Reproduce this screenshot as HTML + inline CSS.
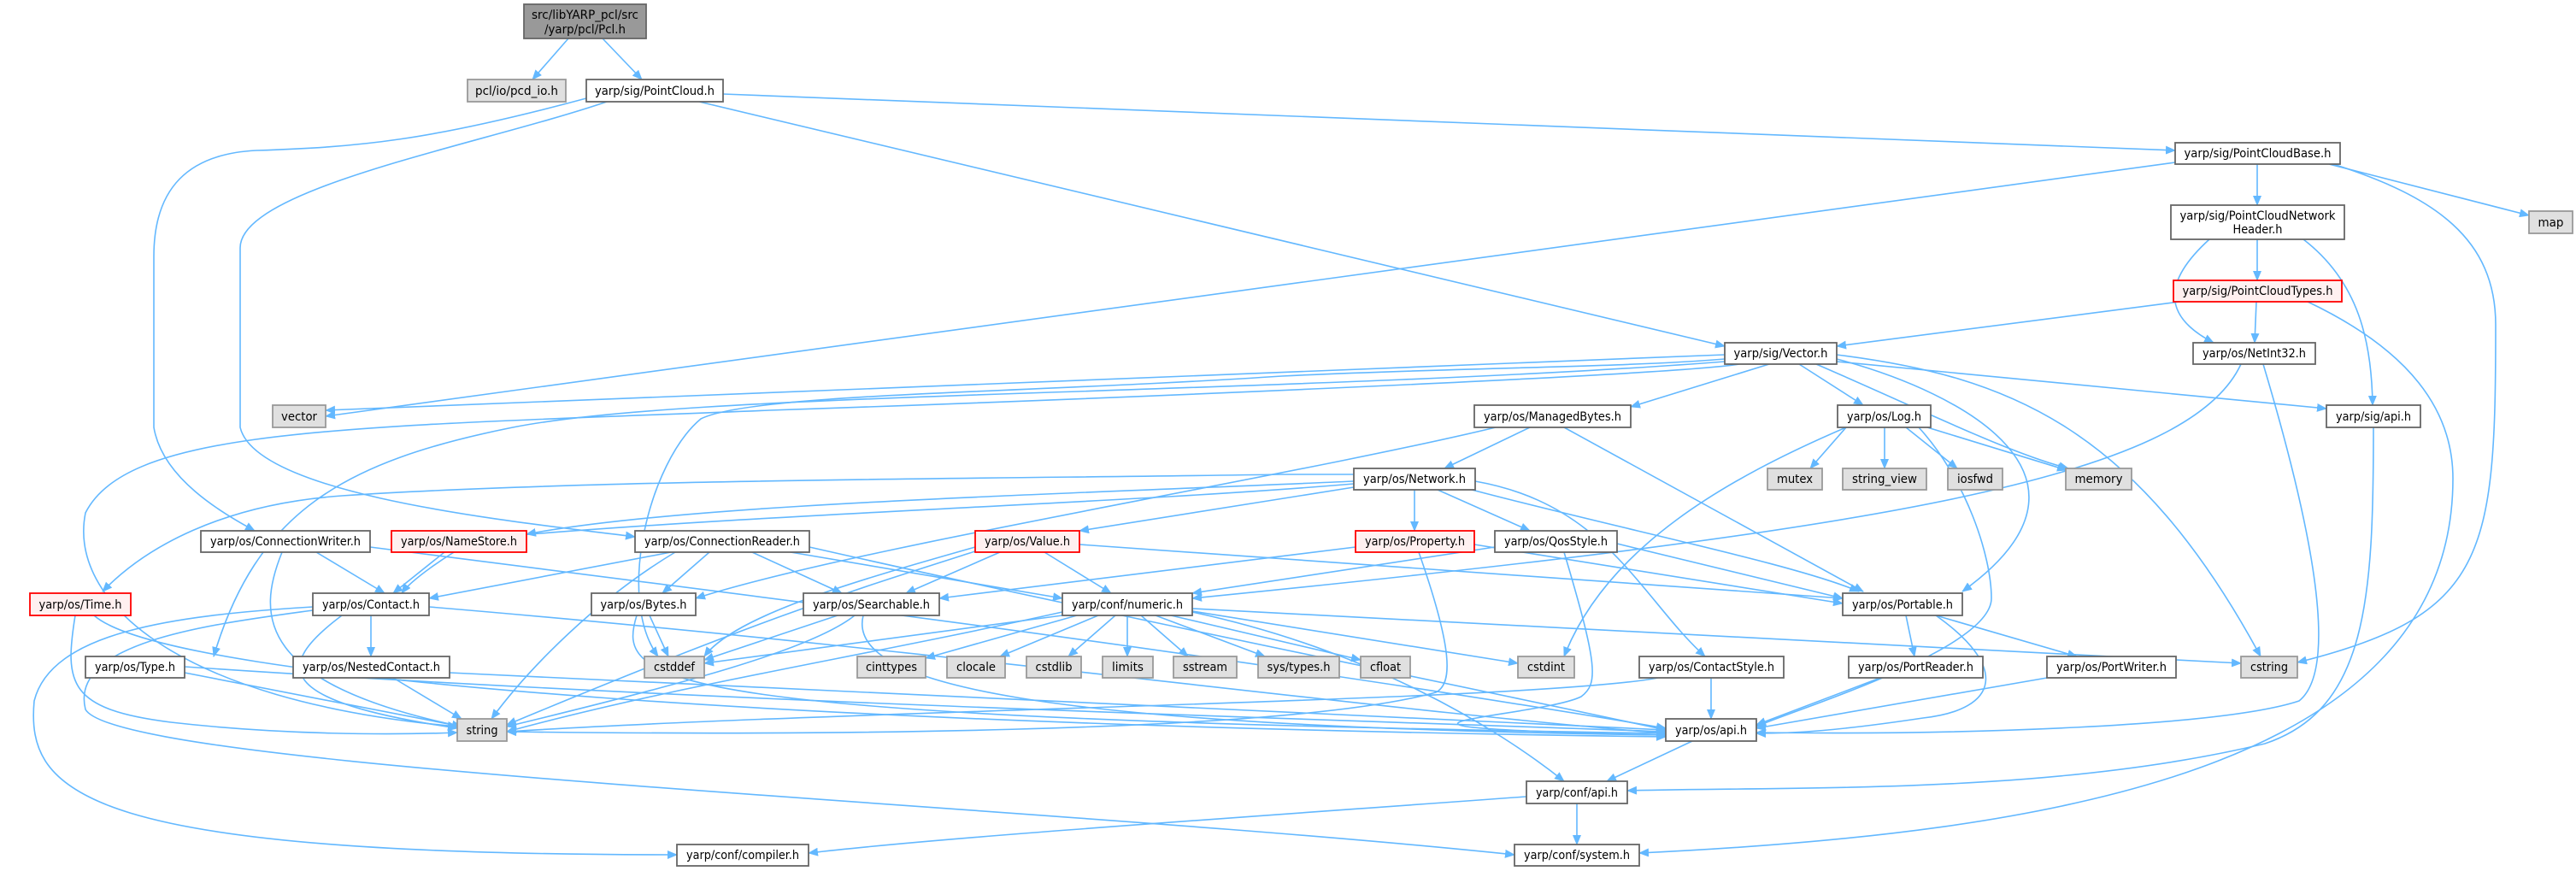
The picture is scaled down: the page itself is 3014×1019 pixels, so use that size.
<!DOCTYPE html>
<html><head><meta charset="utf-8"><style>
html,body{margin:0;padding:0;background:#fff;}
svg{display:block}
text{font-family:"DejaVu Sans Condensed","DejaVu Sans","Liberation Sans",sans-serif;font-size:14px;fill:#000}
.e{fill:none;stroke:#63b8ff;stroke-width:1.6}
.n{fill:#fff;stroke:#666;stroke-width:1.8}
.g{fill:#e0e0e0;stroke:#999;stroke-width:1.8}
.r{fill:#fff0f0;stroke:#f00;stroke-width:1.8}
.d{fill:#999;stroke:#666;stroke-width:1.8}
</style></head><body>
<svg width="3014" height="1019" viewBox="0 0 3014 1019" xmlns="http://www.w3.org/2000/svg">
<defs><marker id="a" markerWidth="12" markerHeight="10" refX="11" refY="5" orient="auto" markerUnits="userSpaceOnUse"><path d="M0,0 L12,5 L0,10 z" fill="#63b8ff"/></marker></defs>
<g class="e" marker-end="url(#a)">
<!-- Pcl -->
<path d="M665,45 L623,93"/>
<path d="M705,45 L751,93"/>
<!-- PointCloud -->
<path d="M846,110 L2545,176"/>
<path d="M818,119 L2018,405"/>
<path d="M686,115 C500,165 420,172 300,176 C220,180 180,220 180,300 L180,500 C190,560 260,600 298,621"/>
<path d="M710,119 C560,170 281,220 281,290 L281,500 C300,580 600,610 743,628"/>
<!-- PointCloudBase -->
<path d="M2545,190 L381,487"/>
<path d="M2641,192 L2641,240"/>
<path d="M2725,192 L2959,252"/>
<path d="M2730,192 C2850,230 2920,280 2920,380 C2920,650 2910,720 2688,775"/>
<!-- PCNH -->
<path d="M2585,280 C2530,330 2530,370 2590,401"/>
<path d="M2641,280 L2641,328"/>
<path d="M2695,280 C2760,330 2775,400 2776,474"/>
<!-- PCT -->
<path d="M2550,353 L2149,405"/>
<path d="M2640,353 L2638,401"/>
<path d="M2700,353 C2820,410 2870,480 2870,560 C2870,900 2400,975 1918,998"/>
<!-- Vector -->
<path d="M2018,415 L381,480"/>
<path d="M2070,426 L1908,476"/>
<path d="M2105,426 L2180,474"/>
<path d="M2149,423 L2722,478"/>
<path d="M2125,426 C2250,480 2350,530 2420,548"/>
<path d="M2149,420 C2300,460 2480,560 2296,692"/>
<path d="M2149,415 C2350,440 2500,500 2645,768"/>
<path d="M2018,420 C1900,430 1700,430 1500,440 C1200,460 880,460 820,490 C760,540 720,700 770,768"/>
<path d="M2018,423 C1800,440 1500,450 1200,460 C900,470 700,480 600,500 C400,540 300,600 250,768"/>
<path d="M2035,426 C1950,440 1200,470 900,480 C400,500 150,500 100,600 C80,700 200,820 535,850"/>
<!-- Log -->
<path d="M2160,500 L2118,548"/>
<path d="M2205,500 L2205,548"/>
<path d="M2230,500 L2290,548"/>
<path d="M2255,500 L2418,550"/>
<path d="M2160,500 C2020,560 1880,640 1830,768"/>
<path d="M2245,500 C2300,560 2330,650 2330,700 C2330,760 2100,830 2055,850"/>
<!-- ManagedBytes -->
<path d="M1790,500 L1690,548"/>
<path d="M1830,500 L2180,692"/>
<path d="M1750,500 C1500,560 1000,640 814,700"/>
<!-- NetInt32 -->
<path d="M2622,426 C2560,560 2200,620 1395,700"/>
<path d="M2648,426 C2700,600 2740,780 2690,820 C2600,850 2300,860 2055,857"/>
<!-- sigapi -->
<path d="M2777,500 C2777,700 2770,830 2650,870 C2400,930 2100,920 1904,925"/>
<!-- Network -->
<path d="M1584,555 L1500,555 C1200,560 700,560 400,580 C260,590 170,640 120,692"/>
<path d="M1584,563 C1200,580 800,590 616,625"/>
<path d="M1584,566 C1300,590 900,600 560,630 C520,650 480,680 470,694"/>
<path d="M1584,570 L1263,621"/>
<path d="M1655,573 L1655,621"/>
<path d="M1682,573 L1790,621"/>
<path d="M1726,563 C1880,590 1920,700 1995,768"/>
<path d="M1722,573 C1900,620 2100,660 2175,692"/>
<!-- ConnectionWriter -->
<path d="M370,646 L450,694"/>
<path d="M330,646 C300,720 300,800 540,850"/>
<path d="M433,640 C900,700 1400,760 1949,852"/>
<!-- NameStore -->
<path d="M520,646 L460,694"/>
<!-- ConnectionReader -->
<path d="M785,646 L502,700"/>
<path d="M830,646 L775,694"/>
<path d="M880,646 L985,694"/>
<path d="M925,646 L1243,700"/>
<path d="M790,646 C700,700 620,780 575,841"/>
<path d="M947,640 C1300,720 1700,800 1949,854"/>
<!-- Value -->
<path d="M1170,646 L1060,694"/>
<path d="M1222,646 L1300,694"/>
<path d="M1263,637 L2156,700"/>
<path d="M1141,640 C1000,680 860,720 824,768"/>
<path d="M1141,645 C1000,690 900,720 593,848"/>
<!-- Property -->
<path d="M1586,640 L1099,700"/>
<path d="M1725,637 L2156,706"/>
<path d="M1660,646 C1700,760 1700,800 1680,810 C1500,860 900,860 593,856"/>
<!-- QosStyle -->
<path d="M1749,640 L1395,694"/>
<path d="M1892,636 L2156,700"/>
<path d="M1830,646 C1870,780 1870,800 1850,815 C1800,840 1500,850 1949,860"/>
<!-- Time -->
<path d="M88,720 C75,800 80,830 200,845 C330,860 460,860 535,857"/>
<path d="M110,720 C200,800 1000,850 1949,862"/>
<!-- Contact -->
<path d="M434,720 L434,768"/>
<path d="M400,720 C320,780 320,820 535,852"/>
<path d="M502,710 C1100,760 1600,830 1949,858"/>
<path d="M366,710 C200,720 60,740 40,820 C30,930 100,1000 792,1000"/>
<path d="M366,714 C250,730 80,750 100,830 C140,900 1200,940 1772,1000"/>
<!-- Bytes -->
<path d="M760,720 L782,768"/>
<path d="M745,720 C720,800 760,840 1949,858"/>
<!-- Searchable -->
<path d="M980,720 L824,772"/>
<path d="M1000,720 C950,760 800,800 593,850"/>
<path d="M1010,720 C990,800 1200,850 1949,860"/>
<!-- numeric -->
<path d="M1243,720 L824,776"/>
<path d="M1260,720 L1083,770"/>
<path d="M1285,720 L1170,768"/>
<path d="M1305,720 L1250,768"/>
<path d="M1319,720 L1319,768"/>
<path d="M1335,720 L1390,768"/>
<path d="M1352,720 L1480,768"/>
<path d="M1370,720 L1592,772"/>
<path d="M1395,715 L1776,776"/>
<path d="M1395,712 L2622,776"/>
<path d="M1395,716 C1600,760 1750,850 1830,914"/>
<path d="M1243,716 C1000,770 800,800 593,856"/>
<!-- Portable -->
<path d="M2230,720 L2240,768"/>
<path d="M2265,720 L2430,768"/>
<path d="M2265,720 C2350,780 2340,830 2250,840 C2150,855 2100,858 2055,858"/>
<!-- Type / Nested / ContactStyle -->
<path d="M216,787 L540,850"/>
<path d="M216,780 C800,820 1500,840 1949,856"/>
<path d="M460,793 L540,841"/>
<path d="M526,787 C1200,820 1600,840 1949,854"/>
<path d="M1940,793 C1800,820 1000,830 593,856"/>
<path d="M2002,793 L2002,841"/>
<path d="M2200,793 L2055,848"/>
<path d="M2395,793 L2055,852"/>
<!-- api -->
<path d="M1980,867 L1880,914"/>
<path d="M1786,932 C1400,960 1100,980 946,998"/>
<path d="M1845,940 L1845,988"/>
</g>
<!-- nodes -->
<rect class="d" x="613" y="5" width="143" height="40"/><text x="684.5" y="22" text-anchor="middle" textLength="125" lengthAdjust="spacingAndGlyphs">src/libYARP_pcl/src</text><text x="684.5" y="39" text-anchor="middle" textLength="95" lengthAdjust="spacingAndGlyphs">/yarp/pcl/Pcl.h</text>
<rect class="g" x="547" y="93" width="115" height="26"/><text x="604.5" y="111" text-anchor="middle" textLength="97" lengthAdjust="spacingAndGlyphs">pcl/io/pcd_io.h</text>
<rect class="n" x="686" y="93" width="160" height="26"/><text x="766" y="111" text-anchor="middle" textLength="140" lengthAdjust="spacingAndGlyphs">yarp/sig/PointCloud.h</text>
<rect class="n" x="2545" y="167" width="193" height="25"/><text x="2641.5" y="184" text-anchor="middle" textLength="172" lengthAdjust="spacingAndGlyphs">yarp/sig/PointCloudBase.h</text>
<rect class="n" x="2540" y="240" width="203" height="40"/><text x="2641.5" y="257" text-anchor="middle" textLength="182" lengthAdjust="spacingAndGlyphs">yarp/sig/PointCloudNetwork</text><text x="2641.5" y="273" text-anchor="middle" textLength="58" lengthAdjust="spacingAndGlyphs">Header.h</text>
<rect class="g" x="2959" y="247" width="51" height="26"/><text x="2984.5" y="265" text-anchor="middle" textLength="30" lengthAdjust="spacingAndGlyphs">map</text>
<rect class="r" x="2543" y="328" width="197" height="25"/><text x="2641.5" y="345" text-anchor="middle" textLength="176" lengthAdjust="spacingAndGlyphs">yarp/sig/PointCloudTypes.h</text>
<rect class="n" x="2018" y="401" width="131" height="25"/><text x="2083.5" y="418" text-anchor="middle" textLength="110" lengthAdjust="spacingAndGlyphs">yarp/sig/Vector.h</text>
<rect class="n" x="2566" y="401" width="143" height="25"/><text x="2637.5" y="418" text-anchor="middle" textLength="121" lengthAdjust="spacingAndGlyphs">yarp/os/NetInt32.h</text>
<rect class="g" x="319" y="474" width="62" height="26"/><text x="350" y="492" text-anchor="middle" textLength="42" lengthAdjust="spacingAndGlyphs">vector</text>
<rect class="n" x="1725" y="474" width="183" height="26"/><text x="1816.5" y="492" text-anchor="middle" textLength="161" lengthAdjust="spacingAndGlyphs">yarp/os/ManagedBytes.h</text>
<rect class="n" x="2150" y="474" width="109" height="26"/><text x="2204.5" y="492" text-anchor="middle" textLength="87" lengthAdjust="spacingAndGlyphs">yarp/os/Log.h</text>
<rect class="n" x="2722" y="474" width="110" height="26"/><text x="2777" y="492" text-anchor="middle" textLength="88" lengthAdjust="spacingAndGlyphs">yarp/sig/api.h</text>
<rect class="n" x="1584" y="548" width="142" height="25"/><text x="1655" y="565" text-anchor="middle" textLength="120" lengthAdjust="spacingAndGlyphs">yarp/os/Network.h</text>
<rect class="g" x="2068" y="548" width="64" height="25"/><text x="2100" y="565" text-anchor="middle" textLength="42" lengthAdjust="spacingAndGlyphs">mutex</text>
<rect class="g" x="2156" y="548" width="98" height="25"/><text x="2205" y="565" text-anchor="middle" textLength="76" lengthAdjust="spacingAndGlyphs">string_view</text>
<rect class="g" x="2279" y="548" width="64" height="25"/><text x="2311" y="565" text-anchor="middle" textLength="42" lengthAdjust="spacingAndGlyphs">iosfwd</text>
<rect class="g" x="2417" y="548" width="77" height="25"/><text x="2455.5" y="565" text-anchor="middle" textLength="56" lengthAdjust="spacingAndGlyphs">memory</text>
<rect class="n" x="235" y="621" width="198" height="25"/><text x="334" y="638" text-anchor="middle" textLength="176" lengthAdjust="spacingAndGlyphs">yarp/os/ConnectionWriter.h</text>
<rect class="r" x="458" y="621" width="158" height="25"/><text x="537" y="638" text-anchor="middle" textLength="136" lengthAdjust="spacingAndGlyphs">yarp/os/NameStore.h</text>
<rect class="n" x="743" y="621" width="204" height="25"/><text x="845" y="638" text-anchor="middle" textLength="182" lengthAdjust="spacingAndGlyphs">yarp/os/ConnectionReader.h</text>
<rect class="r" x="1141" y="621" width="122" height="25"/><text x="1202" y="638" text-anchor="middle" textLength="100" lengthAdjust="spacingAndGlyphs">yarp/os/Value.h</text>
<rect class="r" x="1586" y="621" width="139" height="25"/><text x="1655.5" y="638" text-anchor="middle" textLength="117" lengthAdjust="spacingAndGlyphs">yarp/os/Property.h</text>
<rect class="n" x="1749" y="621" width="143" height="25"/><text x="1820.5" y="638" text-anchor="middle" textLength="121" lengthAdjust="spacingAndGlyphs">yarp/os/QosStyle.h</text>
<rect class="r" x="35" y="694" width="118" height="26"/><text x="94" y="712" text-anchor="middle" textLength="97" lengthAdjust="spacingAndGlyphs">yarp/os/Time.h</text>
<rect class="n" x="366" y="694" width="136" height="26"/><text x="434" y="712" text-anchor="middle" textLength="114" lengthAdjust="spacingAndGlyphs">yarp/os/Contact.h</text>
<rect class="n" x="692" y="694" width="122" height="26"/><text x="753" y="712" text-anchor="middle" textLength="101" lengthAdjust="spacingAndGlyphs">yarp/os/Bytes.h</text>
<rect class="n" x="940" y="694" width="159" height="26"/><text x="1019.5" y="712" text-anchor="middle" textLength="137" lengthAdjust="spacingAndGlyphs">yarp/os/Searchable.h</text>
<rect class="n" x="1243" y="694" width="152" height="26"/><text x="1319" y="712" text-anchor="middle" textLength="130" lengthAdjust="spacingAndGlyphs">yarp/conf/numeric.h</text>
<rect class="n" x="2156" y="694" width="140" height="26"/><text x="2226" y="712" text-anchor="middle" textLength="118" lengthAdjust="spacingAndGlyphs">yarp/os/Portable.h</text>
<rect class="n" x="100" y="768" width="116" height="25"/><text x="158" y="785" text-anchor="middle" textLength="94" lengthAdjust="spacingAndGlyphs">yarp/os/Type.h</text>
<rect class="n" x="343" y="768" width="183" height="25"/><text x="434.5" y="785" text-anchor="middle" textLength="161" lengthAdjust="spacingAndGlyphs">yarp/os/NestedContact.h</text>
<rect class="g" x="754" y="768" width="70" height="25"/><text x="789" y="785" text-anchor="middle" textLength="48" lengthAdjust="spacingAndGlyphs">cstddef</text>
<rect class="g" x="1003" y="768" width="80" height="25"/><text x="1043" y="785" text-anchor="middle" textLength="60" lengthAdjust="spacingAndGlyphs">cinttypes</text>
<rect class="g" x="1108" y="768" width="68" height="25"/><text x="1142" y="785" text-anchor="middle" textLength="46" lengthAdjust="spacingAndGlyphs">clocale</text>
<rect class="g" x="1201" y="768" width="64" height="25"/><text x="1233" y="785" text-anchor="middle" textLength="43" lengthAdjust="spacingAndGlyphs">cstdlib</text>
<rect class="g" x="1290" y="768" width="59" height="25"/><text x="1319.5" y="785" text-anchor="middle" textLength="37" lengthAdjust="spacingAndGlyphs">limits</text>
<rect class="g" x="1373" y="768" width="74" height="25"/><text x="1410" y="785" text-anchor="middle" textLength="52" lengthAdjust="spacingAndGlyphs">sstream</text>
<rect class="g" x="1472" y="768" width="95" height="25"/><text x="1519.5" y="785" text-anchor="middle" textLength="74" lengthAdjust="spacingAndGlyphs">sys/types.h</text>
<rect class="g" x="1592" y="768" width="58" height="25"/><text x="1621" y="785" text-anchor="middle" textLength="36" lengthAdjust="spacingAndGlyphs">cfloat</text>
<rect class="g" x="1776" y="768" width="66" height="25"/><text x="1809" y="785" text-anchor="middle" textLength="44" lengthAdjust="spacingAndGlyphs">cstdint</text>
<rect class="n" x="1918" y="768" width="169" height="25"/><text x="2002.5" y="785" text-anchor="middle" textLength="147" lengthAdjust="spacingAndGlyphs">yarp/os/ContactStyle.h</text>
<rect class="n" x="2163" y="768" width="157" height="25"/><text x="2241.5" y="785" text-anchor="middle" textLength="135" lengthAdjust="spacingAndGlyphs">yarp/os/PortReader.h</text>
<rect class="n" x="2395" y="768" width="151" height="25"/><text x="2470.5" y="785" text-anchor="middle" textLength="129" lengthAdjust="spacingAndGlyphs">yarp/os/PortWriter.h</text>
<rect class="g" x="2622" y="768" width="66" height="25"/><text x="2655" y="785" text-anchor="middle" textLength="44" lengthAdjust="spacingAndGlyphs">cstring</text>
<rect class="g" x="535" y="841" width="58" height="26"/><text x="564" y="859" text-anchor="middle" textLength="37" lengthAdjust="spacingAndGlyphs">string</text>
<rect class="n" x="1949" y="841" width="106" height="26"/><text x="2002" y="859" text-anchor="middle" textLength="84" lengthAdjust="spacingAndGlyphs">yarp/os/api.h</text>
<rect class="n" x="1786" y="914" width="118" height="26"/><text x="1845" y="932" text-anchor="middle" textLength="96" lengthAdjust="spacingAndGlyphs">yarp/conf/api.h</text>
<rect class="n" x="792" y="988" width="154" height="25"/><text x="869" y="1005" text-anchor="middle" textLength="132" lengthAdjust="spacingAndGlyphs">yarp/conf/compiler.h</text>
<rect class="n" x="1772" y="988" width="146" height="25"/><text x="1845" y="1005" text-anchor="middle" textLength="124" lengthAdjust="spacingAndGlyphs">yarp/conf/system.h</text>
</svg>
</body></html>
